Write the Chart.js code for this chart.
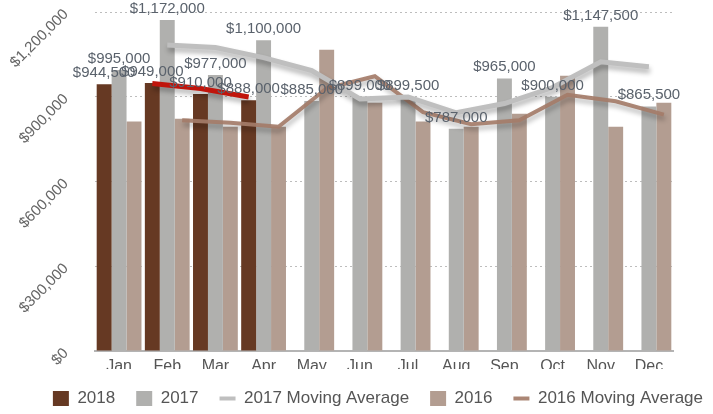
<!DOCTYPE html>
<html><head><meta charset="utf-8">
<script src="https://cdn.jsdelivr.net/npm/chart.js@4.4.1/dist/chart.umd.min.js"></script>
<style>html,body{margin:0;padding:0;background:#fff;} canvas{display:block;}</style>
</head><body>
<canvas id="c" width="713" height="414"></canvas>
<script>
const months = ['Jan','Feb','Mar','Apr','May','Jun','Jul','Aug','Sep','Oct','Nov','Dec'];
const sales2018 = [944500, 949000, 910000, 888000, null, null, null, null, null, null, null, null];
const sales2017 = [995000, 1172000, 977000, 1100000, 885000, 899000, 899500, 787000, 965000, 900000, 1147500, 865500];
const sales2016 = [812000, 822000, 794000, 794000, 1066000, 879000, 812000, 794000, 840000, 974000, 794000, 879000];
const movAvg2018 = [null, 946750, 929500, 899000, null, null, null, null, null, null, null, null];
const movAvg2017 = [null, 1083500, 1074500, 1038500, 992500, 892000, 899250, 843250, 876000, 932500, 1023750, 1006500];
const movAvg2016 = [null, 817000, 808000, 794000, 930000, 972500, 845500, 803000, 817000, 907000, 884000, 836500];
const yTicks = [0, 300000, 600000, 900000, 1200000];

const FONT = "'Liberation Sans', Arial, Helvetica, sans-serif";
const CAT_PCT = 0.93;
const money = v => '$' + Number(v).toLocaleString('en-US');

// Moving-average lines sit over the bar slot of their own year (slot -1, 0, +1 of the group)
const slotPlugin = {
  id: 'slotOffset',
  afterDatasetUpdate(chart, args) {
    const ds = chart.data.datasets[args.index];
    if (!ds.slot) return;
    const xs = chart.scales.x;
    const step = xs.getPixelForValue(1) - xs.getPixelForValue(0);
    const dx = ds.slot * step * CAT_PCT / 3;
    args.meta.data.forEach(pt => { pt.x += dx; });
  }
};
const shadowPlugin = {
  id: 'lineShadow',
  beforeDatasetDraw(chart, args) {
    const ds = chart.data.datasets[args.index];
    if (ds.type === 'line') {
      const ctx = chart.ctx; ctx.save();
      ctx.shadowColor = 'rgba(0,0,0,0.3)';
      ctx.shadowBlur = 5; ctx.shadowOffsetX = 1; ctx.shadowOffsetY = 4;
    }
  },
  afterDatasetDraw(chart, args) {
    const ds = chart.data.datasets[args.index];
    if (ds.type === 'line') chart.ctx.restore();
  }
};
const labelPlugin = {
  id: 'barLabels',
  afterDraw(chart) {
    const ctx = chart.ctx;
    ctx.save();
    ctx.font = '15px ' + FONT;
    ctx.fillStyle = '#5a626c';
    ctx.textAlign = 'center';
    ctx.textBaseline = 'alphabetic';
    chart.data.datasets.forEach((ds, di) => {
      if (!ds.showLabels) return;
      chart.getDatasetMeta(di).data.forEach((bar, i) => {
        const v = ds.data[i];
        if (v == null) return;
        ctx.fillText(money(v), bar.x, bar.y - 7);
      });
    });
    ctx.restore();
  }
};

new Chart(document.getElementById('c'), {
  type: 'bar',
  data: {
    labels: months,
    datasets: [
      {label: '2018', data: sales2018, backgroundColor: '#663923', showLabels: true, order: 2, pointStyle: 'rect', categoryPercentage: CAT_PCT, barPercentage: 1},
      {label: '2017', data: sales2017, backgroundColor: '#b0b0ae', showLabels: true, order: 2, pointStyle: 'rect', categoryPercentage: CAT_PCT, barPercentage: 1},
      {type: 'line', label: '2017 Moving Average', data: movAvg2017, slot: 0, borderColor: '#bfbfbf', backgroundColor: '#bfbfbf', borderWidth: 5, pointRadius: 0, pointBorderWidth: 4, pointStyle: 'line', tension: 0, order: 1},
      {label: '2016', data: sales2016, backgroundColor: '#b39d91', order: 2, pointStyle: 'rect', categoryPercentage: CAT_PCT, barPercentage: 1},
      {type: 'line', label: '2016 Moving Average', data: movAvg2016, slot: 1, borderColor: 'rgba(164,124,105,0.92)', backgroundColor: 'rgba(164,124,105,0.92)', borderWidth: 4, pointRadius: 0, pointBorderWidth: 4, pointStyle: 'line', tension: 0, order: 1},
      {type: 'line', label: '2018 Moving Average', data: movAvg2018, slot: -1, borderColor: '#c0150c', backgroundColor: '#c0150c', borderWidth: 5, pointRadius: 0, pointBorderWidth: 4, pointStyle: 'line', tension: 0, order: 0}
    ]
  },
  options: {
    responsive: false,
    animation: false,
    layout: {padding: {left: 0, top: 12, right: -11, bottom: -3}},
    plugins: {
      tooltip: {enabled: false},
      legend: {
        position: 'bottom',
        align: 'end',
        labels: {
          usePointStyle: true, pointStyleWidth: 16, boxWidth: 16, boxHeight: 15, padding: 21,
          color: '#555', font: {family: FONT, size: 17},
          filter: item => item.text !== '2018 Moving Average',
          sort: (a, b) => a.datasetIndex - b.datasetIndex
        }
      }
    },
    scales: {
      x: {
        type: 'category', offset: true,
        grid: {display: false, drawTicks: false},
        border: {display: true, color: '#b4b4b4', width: 2},
        ticks: {color: '#555', font: {family: FONT, size: 16}, padding: 6},
        afterFit: s => { s.height = 18; s.paddingLeft = 0; s.paddingRight = 0; }
      },
      y: {
        min: 0, max: 1200000, z: 1,
        afterBuildTicks: s => { s.ticks = yTicks.map(v => ({value: v})); },
        grid: {color: 'rgba(90,90,90,0.4)', drawTicks: false, lineWidth: 1},
        border: {display: false, dash: [2, 3]},
        ticks: {color: '#666', font: {family: FONT, size: 15}, padding: 29, minRotation: 45, maxRotation: 45, callback: v => money(v)},
        afterFit: s => { s.width = 95; s.paddingTop = 0; s.paddingBottom = 0; }
      },
      yr: {
        position: 'right', display: true,
        grid: {display: false, drawTicks: false}, border: {display: false},
        ticks: {display: false},
        afterFit: s => { s.width = 51; s.paddingTop = 0; s.paddingBottom = 0; }
      }
    }
  },
  plugins: [slotPlugin, shadowPlugin, labelPlugin]
});
</script>
</body></html>
